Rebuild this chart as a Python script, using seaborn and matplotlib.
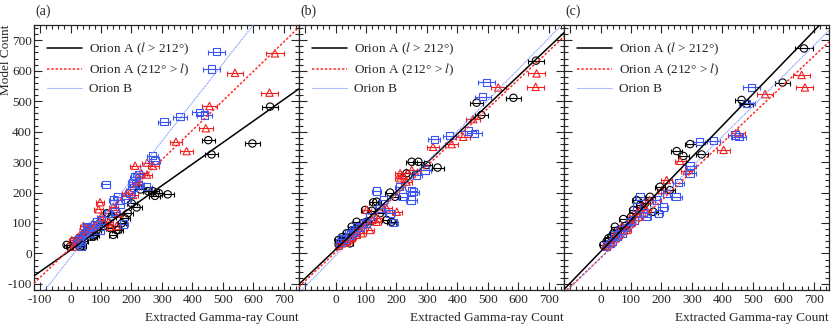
import numpy as np
import matplotlib
matplotlib.use("Agg")
import matplotlib.pyplot as plt
from matplotlib.ticker import MultipleLocator
from matplotlib.lines import Line2D
import seaborn as sns

sns.set_style("ticks")
plt.rcParams['font.family'] = ['Liberation Serif', 'DejaVu Serif']
plt.rcParams['mathtext.fontset'] = 'stix'

# ---- panel (a) ----
a_hi_x = [655, 452, 597, 463, 319, 277, 271, 255, 290, 217, 188, 179, 157, 140, 119, 135, 97, 86, 59, 31, 9, 31, -2, -13, 201, 230, 168, 130, 151, 75,
          20, 45, 65, 110, 40, 80]
a_hi_y = [482, 372, 361, 325, 194, 189, 204, 204, 198, 151, 132, 115, 77, 61, 132, 121, 101, 77, 66, 50, 39, 22, 22, 28, 164, 210, 99, 83, 77, 55,
          30, 40, 55, 90, 25, 60]
a_hi_e = [27, 22, 25, 22, 20, 18, 18, 18, 18, 17, 16, 16, 15, 14, 14, 14, 13, 13, 12, 11, 10, 11, 10, 10, 17, 18, 15, 14, 15, 12,
          10, 11, 12, 14, 11, 13]

a_lo_x = [671, 540, 456, 653, 444, 346, 381, 212, 251, 271, 233, 251, 218, 185, 205, 97, 92, 140, 157, 124, 42, 64, 53, 31, 4, 20, 73, 130, 9, 151,
          15, 35, 50, 60, 75, 25, 100, 110]
a_lo_y = [657, 593, 484, 528, 411, 367, 336, 288, 298, 288, 263, 259, 236, 200, 192, 168, 145, 153, 131, 104, 90, 88, 77, 61, 44, 50, 97, 88, 22, 90,
          35, 55, 70, 80, 85, 40, 120, 100]
a_lo_e = [30, 27, 25, 28, 23, 20, 22, 17, 18, 18, 17, 17, 17, 16, 16, 14, 14, 15, 15, 14, 12, 12, 12, 11, 10, 10, 13, 14, 10, 15,
          10, 11, 12, 12, 13, 10, 14, 14]

a_b_x = [480, 463, 423, 439, 359, 307, 268, 277, 223, 212, 205, 116, 223, 207, 250, 182, 154, 146, 173, 97, 64, 42, 26, 20, 53, 86, 124, 162, 140, 37, 70, 195,
         30, 45, 55, 60, 35, 80, 100]
a_b_y = [662, 606, 463, 455, 449, 433, 321, 305, 260, 252, 233, 227, 227, 217, 219, 179, 186, 137, 97, 77, 66, 58, 44, 33, 88, 104, 132, 162, 175, 22, 77, 198,
         50, 65, 70, 85, 40, 95, 110]
a_b_e = [28, 27, 25, 25, 23, 20, 18, 18, 17, 17, 17, 15, 17, 17, 18, 16, 15, 15, 16, 13, 12, 12, 11, 10, 12, 13, 14, 15, 15, 11, 12, 16,
         11, 11, 12, 12, 11, 13, 14]

# ---- panel (b) ----
b_hi_x = [658, 463, 584, 479, 250, 272, 299, 335, 233, 179, 195, 124, 135, 119, 97, 146, 168, 184, 69, 53, 36, 20, 9, 47, 102, 30,
          10, 25, 40, 60, 75, 90]
b_hi_y = [633, 495, 511, 455, 301, 301, 290, 282, 263, 200, 186, 168, 170, 140, 143, 132, 110, 104, 104, 88, 66, 53, 44, 33, 104, 40,
          30, 45, 50, 70, 90, 100]
b_hi_e = [27, 22, 25, 22, 18, 18, 18, 20, 17, 16, 16, 15, 15, 14, 14, 15, 15, 16, 12, 12, 11, 10, 10, 11, 14, 11,
          10, 10, 11, 12, 13, 13]

b_lo_x = [660, 657, 534, 452, 419, 381, 320, 223, 233, 250, 212, 201, 140, 135, 86, 69, 53, 36, 20, 102, 168, 80, 113, 212,
          10, 30, 45, 55, 65, 90, 120]
b_lo_y = [591, 547, 545, 441, 383, 359, 350, 254, 236, 274, 247, 137, 115, 104, 66, 61, 50, 39, 33, 143, 148, 77, 77, 263,
          25, 35, 45, 55, 70, 95, 110]
b_lo_e = [28, 28, 25, 23, 22, 22, 20, 17, 17, 18, 17, 17, 15, 15, 13, 12, 12, 11, 10, 14, 16, 13, 14, 17,
          10, 10, 11, 12, 12, 13, 14]

b_b_x = [496, 483, 436, 456, 374, 324, 294, 266, 135, 250, 255, 248, 179, 190, 157, 91, 58, 42, 20, 69, 113, 146, 222, 211,
         15, 30, 50, 60, 80, 100]
b_b_y = [562, 515, 402, 394, 387, 375, 274, 258, 205, 205, 203, 175, 132, 101, 175, 99, 77, 66, 50, 88, 121, 148, 186, 219,
         35, 45, 60, 70, 85, 100]
b_b_e = [27, 26, 24, 24, 22, 20, 18, 18, 15, 18, 18, 18, 16, 16, 15, 13, 12, 11, 10, 12, 14, 15, 17, 17,
         10, 10, 11, 12, 13, 13]

# ---- panel (c) ----
c_hi_x = [668, 598, 463, 480, 294, 250, 272, 332, 195, 228, 119, 146, 173, 75, 47, 26, 9, 42, 108, 162,
          20, 35, 55, 80, 100, 130]
c_hi_y = [673, 561, 504, 491, 359, 336, 320, 325, 219, 208, 175, 164, 137, 113, 88, 50, 28, 66, 143, 186,
          40, 55, 75, 90, 120, 160]
c_hi_e = [28, 25, 22, 22, 18, 18, 18, 20, 16, 17, 15, 15, 15, 13, 12, 11, 10, 12, 14, 16,
          10, 11, 12, 13, 14, 15]

c_lo_x = [660, 671, 540, 451, 404, 261, 283, 217, 201, 135, 119, 97, 69, 47, 31, 20, 162, 86, 151,
          15, 35, 50, 60, 75, 100, 125]
c_lo_y = [586, 545, 523, 397, 340, 304, 272, 241, 208, 154, 132, 115, 88, 61, 39, 22, 175, 77, 143,
          25, 35, 50, 60, 75, 100, 120]
c_lo_e = [28, 28, 26, 24, 22, 18, 18, 17, 17, 15, 15, 14, 13, 12, 11, 10, 16, 13, 15,
          10, 10, 11, 12, 12, 13, 14]

c_b_x = [496, 480, 324, 370, 441, 455, 294, 294, 248, 255, 217, 184, 129, 190, 151, 97, 64, 47, 31, 119, 206,
         20, 40, 55, 70, 85, 110, 140]
c_b_y = [545, 493, 367, 370, 389, 383, 288, 263, 186, 232, 197, 175, 186, 132, 121, 104, 77, 61, 33, 153, 153,
         25, 40, 55, 65, 85, 110, 135]
c_b_e = [27, 26, 20, 22, 24, 24, 18, 18, 18, 18, 17, 16, 15, 16, 15, 14, 12, 12, 11, 14, 16,
         10, 11, 11, 12, 13, 14, 15]

# fitted lines (slope, intercept)
a_fits = [(0.706, 11), (0.966, 18), (1.272, -13)]
b_fits = [(0.949, 13), (0.944, 4), (1.02, -7)]
c_fits = [(1.034, 6), (0.946, -15), (0.995, -14)]

labels = ['Orion A ($l$ > 212°)', 'Orion A (212° > $l$)', 'Orion B']
col_hi, col_lo, col_b = 'black', '#f02020', '#3a55f0'
line_cols = ['black', '#ff2a2a', '#6f8cff']
line_styles = ['-', (0, (1.6, 1.2)), (0, (1, 0.8))]
line_widths = [1.1, 1.1, 0.8]


def draw_series(ax, x, y, err, color, marker, size):
    ax.errorbar(x, y, xerr=err, fmt='none', ecolor=color, elinewidth=0.8,
                capsize=1.8, capthick=0.8, zorder=2)
    sns.scatterplot(x=x, y=y, ax=ax, marker=marker, s=size, color=color,
                    facecolors='none', edgecolor=color, linewidth=0.8, zorder=3)


fig = plt.figure(figsize=(8.31, 3.25), dpi=100)
panels = [
    ('(a)', (a_hi_x, a_hi_y, a_hi_e), (a_lo_x, a_lo_y, a_lo_e), (a_b_x, a_b_y, a_b_e), a_fits),
    ('(b)', (b_hi_x, b_hi_y, b_hi_e), (b_lo_x, b_lo_y, b_lo_e), (b_b_x, b_b_y, b_b_e), b_fits),
    ('(c)', (c_hi_x, c_hi_y, c_hi_e), (c_lo_x, c_lo_y, c_lo_e), (c_b_x, c_b_y, c_b_e), c_fits),
]
lefts = [34, 299, 564]
for i, (tag, hi, lo, ob, fits) in enumerate(panels):
    ax = fig.add_axes([lefts[i] / 831, 35 / 325, 265 / 831, 265 / 325])
    draw_series(ax, *hi, col_hi, 'o', 28)
    draw_series(ax, *lo, col_lo, '^', 28)
    draw_series(ax, *ob, col_b, 's', 28)
    for (m, b), c, ls, lw in zip(fits, line_cols, line_styles, line_widths):
        ax.axline((0, b), slope=m, color=c, ls=ls, lw=lw, zorder=4)
    ax.set_xlim(-120, 750)
    ax.set_ylim(-120, 750)
    ticks = list(range(-100, 800, 100))
    ax.set_xticks(ticks)
    ax.set_yticks(ticks)
    ax.xaxis.set_minor_locator(MultipleLocator(20))
    ax.yaxis.set_minor_locator(MultipleLocator(20))
    if i == 0:
        ax.set_xticklabels([str(t) for t in ticks])
        ax.set_yticklabels([str(t) for t in ticks])
    else:
        ax.set_xticklabels([''] + [str(t) for t in ticks[1:]])
        ax.set_yticklabels([])
    ax.set_xlabel('Extracted Gamma-ray Count', loc='right', fontsize=9.5, labelpad=4)
    ax.tick_params(which='both', direction='in', top=True, right=True, width=0.8, labelsize=9.5, pad=3)
    ax.tick_params(axis='y', pad=1.5)
    ax.tick_params(which='major', length=6)
    ax.tick_params(which='minor', length=3)
    for s in ax.spines.values():
        s.set_linewidth(0.9)
    handles = [Line2D([], [], color=c, ls=ls, lw=lw) for c, ls, lw in zip(line_cols, line_styles, line_widths)]
    ax.legend(handles, labels, loc='upper left', bbox_to_anchor=(0.03, 0.96), frameon=False,
              fontsize=9.5, handlelength=2.6, handletextpad=0.6, labelspacing=0.35, borderaxespad=0)
    fig.text((lefts[i] + 1) / 831, 1 - 11 / 325, tag, fontsize=10, va='center', ha='left')

fig.text(6 / 831, 1 - 25 / 325, 'Model Count', rotation=90, fontsize=9.5, ha='center', va='top')

fig.savefig('out.png', dpi=100)
